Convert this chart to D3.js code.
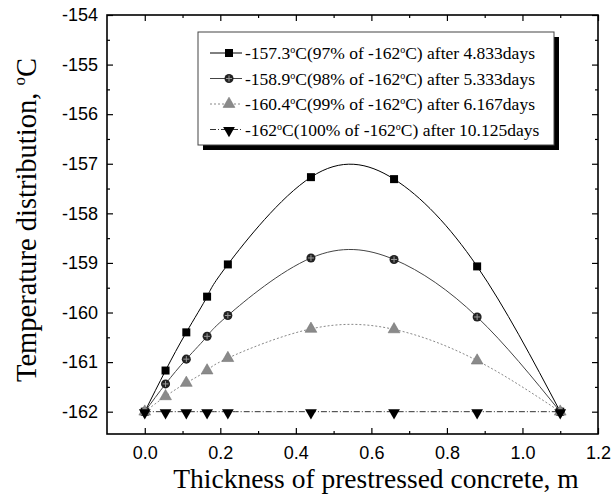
<!DOCTYPE html>
<html>
<head>
<meta charset="utf-8">
<script src="https://cdn.jsdelivr.net/npm/d3@7"></script>
<style>
  body { margin: 0; background: #fff; }
  svg { display: block; }
</style>
</head>
<body>
<svg id="chart" width="613" height="499"></svg>
<script>
// thickness positions, m
var thickness = [0, 0.055, 0.11, 0.165, 0.22, 0.44, 0.66, 0.88, 1.1];

// temperatures, degC
var temp97 = [-162, -161.17, -160.40, -159.68, -159.03, -157.27, -157.31, -159.07, -162];
var temp98 = [-162, -161.44, -160.94, -160.48, -160.06, -158.90, -158.93, -160.09, -162];
var temp99 = [-162, -161.69, -161.42, -161.17, -160.92, -160.33, -160.34, -160.97, -162];
var temp100 = [-162, -162, -162, -162, -162, -162, -162, -162, -162];

var legendTemps = ["-157.3", "-158.9", "-160.4", "-162"];
var legendPcts = ["97%", "98%", "99%", "100%"];
var legendDays = ["4.833days", "5.333days", "6.167days", "10.125days"];

var xTicks = [0, 0.2, 0.4, 0.6, 0.8, 1.0, 1.2];
var yTicks = [-154, -155, -156, -157, -158, -159, -160, -161, -162];

var series = [
  { values: temp97, symbol: d3.symbolSquare, size: 64, fill: "#000", line: "#000", dash: null, rot: 0 },
  { values: temp98, symbol: d3.symbolCircle, size: 64, fill: "#222", line: "#444", dash: null, rot: 0, cross: true },
  { values: temp99, symbol: d3.symbolTriangle, size: 60, fill: "#8a8a8a", line: "#888", dash: "2,2", rot: 0 },
  { values: temp100, symbol: d3.symbolTriangle, size: 60, fill: "#000", line: "#333", dash: "6,2,1,2", rot: 180 }
];

var svg = d3.select("#chart"),
  margin = { top: 15, right: 15, bottom: 65, left: 107 },
  width = 613 - margin.left - margin.right,
  height = 499 - margin.top - margin.bottom;

var x = d3.scaleLinear().domain([-0.1, 1.2]).range([0, width]);
var y = d3.scaleLinear().domain([-162.45, -154]).range([height, 0]);

var g = svg.append("g")
  .attr("transform", "translate(" + margin.left + "," + margin.top + ")");

var sansFont = "'Liberation Sans', Arial, sans-serif";
var serifFont = "'Liberation Serif', 'Times New Roman', serif";

// plain hyphen minus like the original
var fmtY = function(d) { return String(d); };
var fmtX = function(d) { return d.toFixed(1); };

var xMinor = [0.1, 0.3, 0.5, 0.7, 0.9, 1.1];
var yMinor = d3.range(-161.5, -154, 1);

function noDomain(a) { a.select(".domain").remove(); }

// bottom / left axes with labels, ticks pointing inward
g.append("g")
  .attr("transform", "translate(0," + height + ")")
  .call(d3.axisBottom(x).tickValues(xTicks).tickSize(-6).tickPadding(12).tickFormat(fmtX))
  .call(noDomain);

g.append("g")
  .call(d3.axisLeft(y).tickValues(yTicks).tickSize(-6).tickPadding(9).tickFormat(fmtY))
  .call(noDomain);

// top / right ticks, no labels
g.append("g")
  .call(d3.axisTop(x).tickValues(xTicks).tickSize(-6).tickFormat(""))
  .call(noDomain);

g.append("g")
  .attr("transform", "translate(" + width + ",0)")
  .call(d3.axisRight(y).tickValues(yTicks).tickSize(-6).tickFormat(""))
  .call(noDomain);

// minor ticks on every side
g.append("g")
  .attr("transform", "translate(0," + height + ")")
  .call(d3.axisBottom(x).tickValues(xMinor).tickSize(-3).tickFormat(""))
  .call(noDomain);
g.append("g")
  .call(d3.axisTop(x).tickValues(xMinor).tickSize(-3).tickFormat(""))
  .call(noDomain);
g.append("g")
  .call(d3.axisLeft(y).tickValues(yMinor).tickSize(-3).tickFormat(""))
  .call(noDomain);
g.append("g")
  .attr("transform", "translate(" + width + ",0)")
  .call(d3.axisRight(y).tickValues(yMinor).tickSize(-3).tickFormat(""))
  .call(noDomain);

g.selectAll(".tick line").attr("stroke", "#000").attr("stroke-width", 1.2);
g.selectAll(".tick text")
  .attr("font-family", sansFont)
  .attr("font-size", 18)
  .attr("fill", "#000");

// frame
g.append("rect")
  .attr("width", width)
  .attr("height", height)
  .attr("fill", "none")
  .attr("stroke", "#000")
  .attr("stroke-width", 1.6);

// curves
var line = d3.line()
  .curve(d3.curveNatural)
  .x(function(d, i) { return x(thickness[i]); })
  .y(function(d) { return y(d); });

g.selectAll("path.series")
  .data(series)
  .enter().append("path")
    .attr("class", "series")
    .attr("fill", "none")
    .attr("stroke", function(d) { return d.line; })
    .attr("stroke-width", 1)
    .attr("stroke-dasharray", function(d) { return d.dash; })
    .attr("d", function(d) { return line(d.values); });

function drawMarker(sel, s) {
  sel.append("path")
    .attr("d", d3.symbol().type(s.symbol).size(s.size)())
    .attr("transform", "rotate(" + s.rot + ")" + (s.rot ? " translate(0,-1)" : ""))
    .attr("fill", s.fill)
    .attr("stroke", s.fill == "#8a8a8a" ? "#777" : "none")
    .attr("stroke-width", 0.6);
  if (s.cross) {
    sel.append("path")
      .attr("d", "M-3,0H3M0,-3V3")
      .attr("stroke", "#999")
      .attr("stroke-width", 1);
  }
}

series.forEach(function(s) {
  g.append("g").selectAll("g")
    .data(s.values)
    .enter().append("g")
      .attr("transform", function(d, i) { return "translate(" + x(thickness[i]) + "," + y(d) + ")"; })
      .each(function() { drawMarker(d3.select(this), s); });
});

// legend
var legend = svg.append("g").attr("transform", "translate(198,32)");
legend.append("rect")
  .attr("x", 5).attr("y", 5)
  .attr("width", 356).attr("height", 113)
  .attr("fill", "#000");
legend.append("rect")
  .attr("width", 356).attr("height", 113)
  .attr("fill", "#fff")
  .attr("stroke", "#444")
  .attr("stroke-width", 1);

var rows = legend.selectAll("g.row")
  .data(series)
  .enter().append("g")
    .attr("class", "row")
    .attr("transform", function(d, i) { return "translate(0," + (21 + i * 25.5) + ")"; });

rows.append("line")
  .attr("x1", 12).attr("x2", 44)
  .attr("stroke", function(d) { return d.line; })
  .attr("stroke-dasharray", function(d) { return d.dash; });

rows.append("g")
  .attr("transform", "translate(31,0)")
  .each(function(d) { drawMarker(d3.select(this), d); });

var texts = rows.append("text")
  .attr("x", 47)
  .attr("y", 6)
  .attr("font-family", serifFont)
  .attr("font-size", 17.5)
  .attr("fill", "#000");

texts.each(function(d, i) {
  var t = d3.select(this);
  t.append("tspan").text(legendTemps[i]);
  t.append("tspan").attr("dy", -6).attr("font-size", 10).text("o");
  t.append("tspan").attr("dy", 6).text("C(" + legendPcts[i] + " of -162");
  t.append("tspan").attr("dy", -6).attr("font-size", 10).text("o");
  t.append("tspan").attr("dy", 6).text("C) after " + legendDays[i]);
});

// axis titles
svg.append("text")
  .attr("x", 376)
  .attr("y", 488)
  .attr("text-anchor", "middle")
  .attr("font-family", serifFont)
  .attr("font-size", 27.5)
  .text("Thickness of prestressed concrete, m");

var yTitle = svg.append("text")
  .attr("transform", "translate(36,220) rotate(-90)")
  .attr("text-anchor", "middle")
  .attr("font-family", serifFont)
  .attr("font-size", 28.5);
yTitle.append("tspan").text("Temperature distribution, ");
yTitle.append("tspan").attr("dy", -11).attr("font-size", 17).text("o");
yTitle.append("tspan").attr("dy", 11).text("C");
</script>
</body>
</html>
